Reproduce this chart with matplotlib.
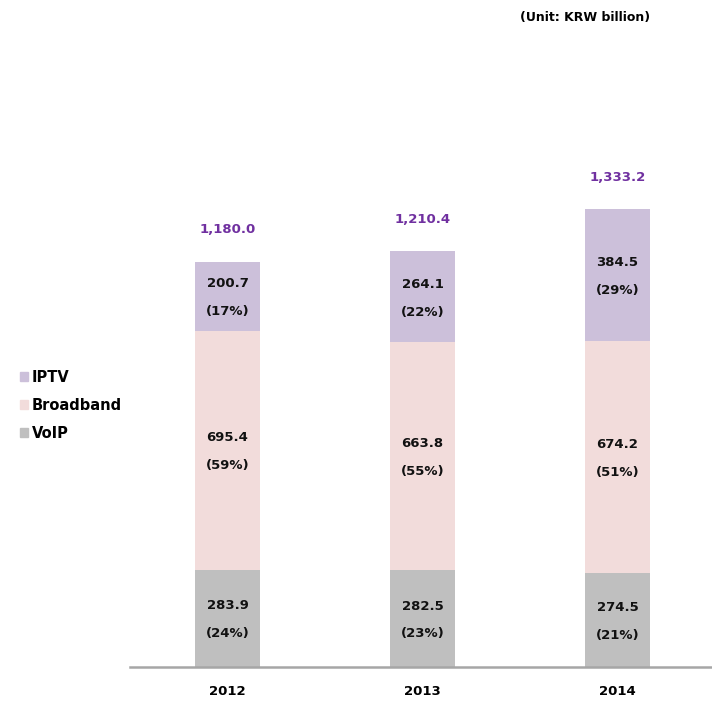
import numpy as np
import matplotlib
matplotlib.use("Agg")
import matplotlib.pyplot as plt
from matplotlib.patches import Patch

years = ["2012", "2013", "2014"]
voip = [283.9, 282.5, 274.5]
broadband = [695.4, 663.8, 674.2]
iptv = [200.7, 264.1, 384.5]

series = [("VoIP", voip, "#BFBFBF"),
          ("Broadband", broadband, "#F2DCDB"),
          ("IPTV", iptv, "#CCC0DA")]

plt.rcParams['font.family'] = ['DejaVu Sans']

fig = plt.figure(figsize=(7.12, 7.06), dpi=100)
ax = fig.add_axes([130 / 712, 1 - 667 / 706, 582 / 712, 618 / 706])

x = np.arange(len(years))
totals = np.sum([s[1] for s in series], axis=0)
bottom = np.zeros(len(years))
for name, vals, color in series:
    vals = np.array(vals)
    ax.bar(x, vals, width=1 / 3, bottom=bottom, color=color, linewidth=0)
    for i in range(len(years)):
        mid = bottom[i] + vals[i] / 2
        pct = vals[i] / totals[i] * 100
        ax.annotate("{:.1f}".format(vals[i]), (x[i], mid), xytext=(0, 9),
                    textcoords="offset points", ha="center", va="center",
                    fontsize=9.5, fontweight="bold", color="#111111")
        ax.annotate("({:.0f}%)".format(pct), (x[i], mid), xytext=(0, -11),
                    textcoords="offset points", ha="center", va="center",
                    fontsize=9.5, fontweight="bold", color="#111111")
    bottom += vals

# totals above each bar
for i in range(len(years)):
    ax.annotate("{:,.1f}".format(totals[i]), (x[i], totals[i]), xytext=(0, 23),
                textcoords="offset points", ha="center", va="center",
                fontsize=9.5, fontweight="bold", color="#7030A0")

ax.set_xlim(-0.5, 2.4846)
ax.set_ylim(0, 1800)
ax.set_xticks(x)
ax.set_xticklabels(years, fontsize=9.5, fontweight="bold")
ax.tick_params(axis="x", length=0, pad=13)
ax.set_yticks([])
for side in ["top", "right", "left"]:
    ax.spines[side].set_visible(False)
ax.spines["bottom"].set_color("#A6A6A6")
ax.spines["bottom"].set_linewidth(1.8)

handles = [Patch(color=c, label=n) for n, v, c in series[::-1]]
fig.legend(handles=handles, loc="upper left", bbox_to_anchor=(0.009, 0.495),
           frameon=False, handlelength=0.6, handleheight=0.6, handletextpad=0.25,
           labelspacing=0.9, prop={"weight": "bold", "size": 10.5})

fig.text(650 / 712, 1 - 17 / 706, "(Unit: KRW billion)", ha="right", va="center",
         fontsize=9, fontweight="bold")

fig.savefig("out.png", dpi=100)
